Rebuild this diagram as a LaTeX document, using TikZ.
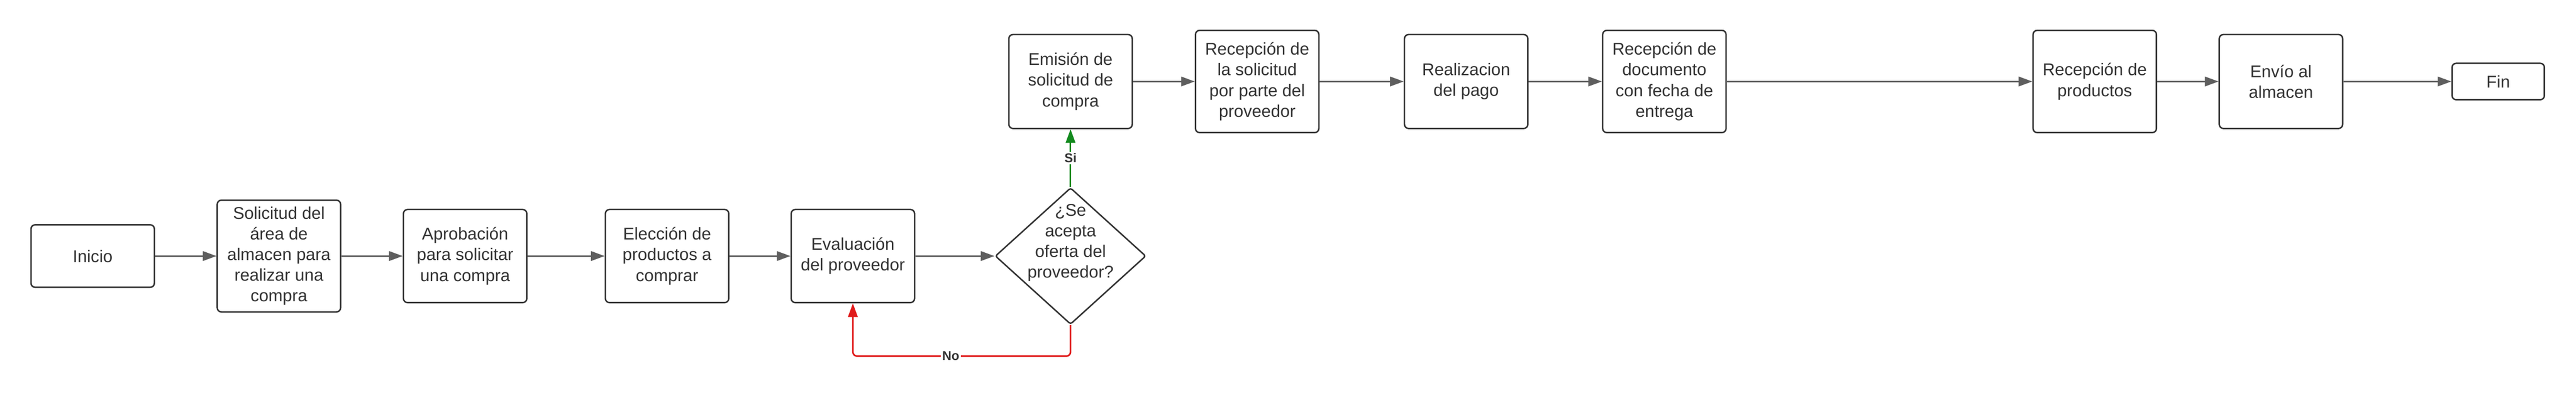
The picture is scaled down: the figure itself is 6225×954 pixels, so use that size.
\documentclass[tikz,border=0pt]{standalone}
\usepackage{fontspec}
\setmainfont{Liberation Sans}
\usetikzlibrary{arrows.meta,shapes.geometric}

\definecolor{boxline}{HTML}{333333}
\definecolor{flowgray}{HTML}{5E5E5E}
\definecolor{sigreen}{HTML}{138A1E}
\definecolor{nored}{HTML}{E01A1A}

\begin{document}
\begin{tikzpicture}[x=0.01cm,y=-0.01cm,
    flow/.style={draw=flowgray,line width=1.1pt,-{Triangle[length=0.33cm,width=0.23cm]}},
    answer/.style={fill=white,text=boxline,inner sep=1pt,font=\bfseries\fontsize{8.8}{10}\selectfont}]

      \useasboundingbox (0,0) rectangle (6225,954);

      \begin{scope}[every node/.style={draw=boxline,line width=1pt,fill=white,rounded corners=0.1cm,
          minimum width=2.98cm,inner sep=0pt,align=center,text=boxline,font=\fontsize{11.7}{14.2}\selectfont}]
        \node[minimum height=1.51cm] (inicio)     at (224,619)  {Inicio};
        \node[minimum height=2.70cm] (solicitud)  at (674,619)  {Solicitud del\\área de\\almacen para\\realizar una\\compra};
        \node[minimum height=2.25cm] (aprobacion) at (1124,619) {Aprobación\\para solicitar\\una compra};
        \node[minimum height=2.25cm] (eleccion)   at (1612,619) {Elección de\\productos a\\comprar};
        \node[minimum height=2.25cm] (evaluacion) at (2061,619) {Evaluación\\del proveedor};
        \node[diamond,rounded corners=0.05cm,minimum width=3.64cm,minimum height=3.3cm] (decision) at (2587,619) {};
        \node[minimum height=2.27cm] (emision)    at (2587,197) {Emisión de\\solicitud de\\compra};
        \node[minimum height=2.47cm] (recsol)     at (3038,197) {Recepción de\\la solicitud\\por parte del\\proveedor};
        \node[minimum height=2.27cm] (pago)       at (3543,197) {Realizacion\\del pago};
        \node[minimum height=2.47cm] (recdoc)     at (4022,197) {Recepción de\\documento\\con fecha de\\entrega};
        \node[minimum height=2.47cm] (recprod)    at (5062,197) {Recepción de\\productos};
        \node[minimum height=2.27cm] (envio)      at (5512,197) {Envío al\\almacen};
        \node[minimum height=0.88cm,minimum width=2.23cm] (fin) at (6037,197) {Fin};
      \end{scope}

      \node[align=center,text=boxline,inner sep=0pt,font=\fontsize{11.7}{14.2}\selectfont] (decisiontext)
        at (2587,587) {¿Se\\acepta\\oferta del\\proveedor?};

      \begin{scope}[every edge/.style={flow}]
        \path (inicio.east)     edge (solicitud.west);
        \path (solicitud.east)  edge (aprobacion.west);
        \path (aprobacion.east) edge (eleccion.west);
        \path (eleccion.east)   edge (evaluacion.west);
        \path (evaluacion.east) edge (decision.west);
        \path (emision.east)    edge (recsol.west);
        \path (recsol.east)     edge (pago.west);
        \path (pago.east)       edge (recdoc.west);
        \path (recdoc.east)     edge (recprod.west);
        \path (recprod.east)    edge (envio.west);
        \path (envio.east)      edge (fin.west);
      \end{scope}

      \draw[flow,draw=sigreen] (decision.north) -- node[answer] {Si} (emision.south);
      \draw[flow,draw=nored,rounded corners=0.1cm] (decision.south) -- ++(0,75)
        -| node[answer,pos=0.275] {No} (evaluacion.south);

    \end{tikzpicture}
\end{document}
